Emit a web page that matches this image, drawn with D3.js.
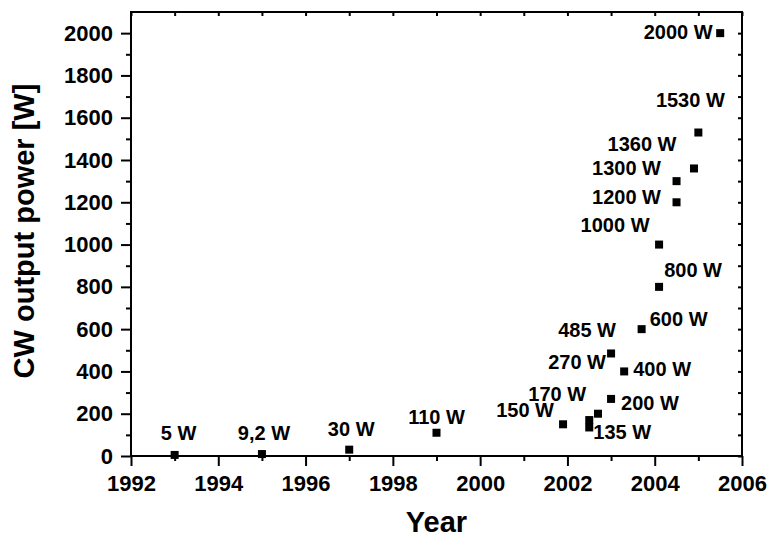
<!DOCTYPE html>
<html>
<head>
<meta charset="utf-8">
<script src="https://cdn.jsdelivr.net/npm/d3@7"></script>
<style>
  body { margin: 0; background: #fff; }
  svg text { font-family: Arial, "Liberation Sans", sans-serif; font-weight: bold; fill: #000; }
</style>
</head>
<body>
<svg id="chart" width="769" height="537"></svg>
<script>
// data
var years = [1993, 1995, 1997, 1999, 2001.9, 2002.5, 2002.5, 2002.7, 2003, 2003.3,
  2003, 2003.7, 2004.1, 2004.1, 2004.5, 2004.5, 2004.9, 2005, 2005.5];
var powers = [5, 9.2, 30, 110, 150, 135, 170, 200, 270, 400,
  485, 600, 800, 1000, 1200, 1300, 1360, 1530, 2000];
var x_ticks = [1992, 1994, 1996, 1998, 2000, 2002, 2004, 2006];
var y_ticks = [0, 200, 400, 600, 800, 1000, 1200, 1400, 1600, 1800, 2000];

// label placement relative to each marker (pixels), same order as the data
var label_dx = [4, 2, 2, 0, -38, 33, -32, 52, -34, 38, -24, 37, 34, -44, -50, -50, -52, -8, -42];
var label_dy = [-15, -14, -14, -9, -7, 12, -19, -4, -30, 5, -16, -3, -10, -13, 2, -6, -17, -26, 6];

var svg = d3.select('#chart');
var margin = {left: 131, right: 27, top: 12, bottom: 81};
var width = 769 - margin.left - margin.right;
var height = 537 - margin.top - margin.bottom;

var x_scale = d3.scaleLinear().domain([1992, 2006]).range([0, width]);
var y_scale = d3.scaleLinear().domain([0, 2100]).range([height, 0]);

var plot = svg.append('g')
  .attr('transform', 'translate(' + margin.left + ',' + margin.top + ')');

var minor_x = d3.range(1993, 2006, 2);
var minor_y = d3.range(100, 2100, 200);

function style_axis(g) {
  g.select('.domain').remove();
  g.selectAll('line').attr('stroke', '#000').attr('stroke-width', 2);
}

// bottom axis, outward ticks
plot.append('g')
  .attr('transform', 'translate(0,' + height + ')')
  .call(d3.axisBottom(x_scale).tickValues(x_ticks).tickFormat(d3.format('d'))
    .tickSize(10).tickPadding(9))
  .call(style_axis)
  .selectAll('text').style('font-size', '22px');

plot.append('g')
  .attr('transform', 'translate(0,' + height + ')')
  .call(d3.axisBottom(x_scale).tickValues(minor_x).tickFormat('').tickSize(5))
  .call(style_axis);

// left axis, outward ticks
plot.append('g')
  .call(d3.axisLeft(y_scale).tickValues(y_ticks).tickFormat(d3.format('d'))
    .tickSize(10).tickPadding(8))
  .call(style_axis)
  .selectAll('text').style('font-size', '22px');

plot.append('g')
  .call(d3.axisLeft(y_scale).tickValues(minor_y).tickFormat('').tickSize(5))
  .call(style_axis);

// top and right axes, inward ticks
plot.append('g')
  .call(d3.axisTop(x_scale).tickValues(x_ticks.concat(minor_x)).tickFormat('').tickSize(-4))
  .call(style_axis);

plot.append('g')
  .attr('transform', 'translate(' + width + ',0)')
  .call(d3.axisRight(y_scale).tickValues(y_ticks.concat(minor_y)).tickFormat('').tickSize(-4))
  .call(style_axis);

// frame
plot.append('rect')
  .attr('width', width)
  .attr('height', height)
  .attr('fill', 'none')
  .attr('stroke', '#000')
  .attr('stroke-width', 2);

// square markers
var marker = 8;
plot.selectAll('.marker')
  .data(years)
  .enter()
  .append('rect')
  .attr('class', 'marker')
  .attr('x', function(d) { return x_scale(d) - marker / 2; })
  .attr('y', function(d, i) { return y_scale(powers[i]) - marker / 2; })
  .attr('width', marker)
  .attr('height', marker)
  .attr('fill', '#000');

// point labels
plot.selectAll('.point_label')
  .data(powers)
  .enter()
  .append('text')
  .attr('class', 'point_label')
  .attr('x', function(d, i) { return x_scale(years[i]) + label_dx[i]; })
  .attr('y', function(d, i) { return y_scale(d) + label_dy[i]; })
  .attr('text-anchor', 'middle')
  .style('font-size', '20px')
  .text(function(d) { return String(d).replace('.', ',') + ' W'; });

// axis titles
svg.append('text')
  .attr('x', margin.left + width / 2)
  .attr('y', 532)
  .attr('text-anchor', 'middle')
  .style('font-size', '29px')
  .text('Year');

svg.append('text')
  .attr('transform', 'translate(34,' + (margin.top + height / 2 - 3) + ') rotate(-90)')
  .attr('text-anchor', 'middle')
  .style('font-size', '29px')
  .text('CW output power [W]');
</script>
</body>
</html>
